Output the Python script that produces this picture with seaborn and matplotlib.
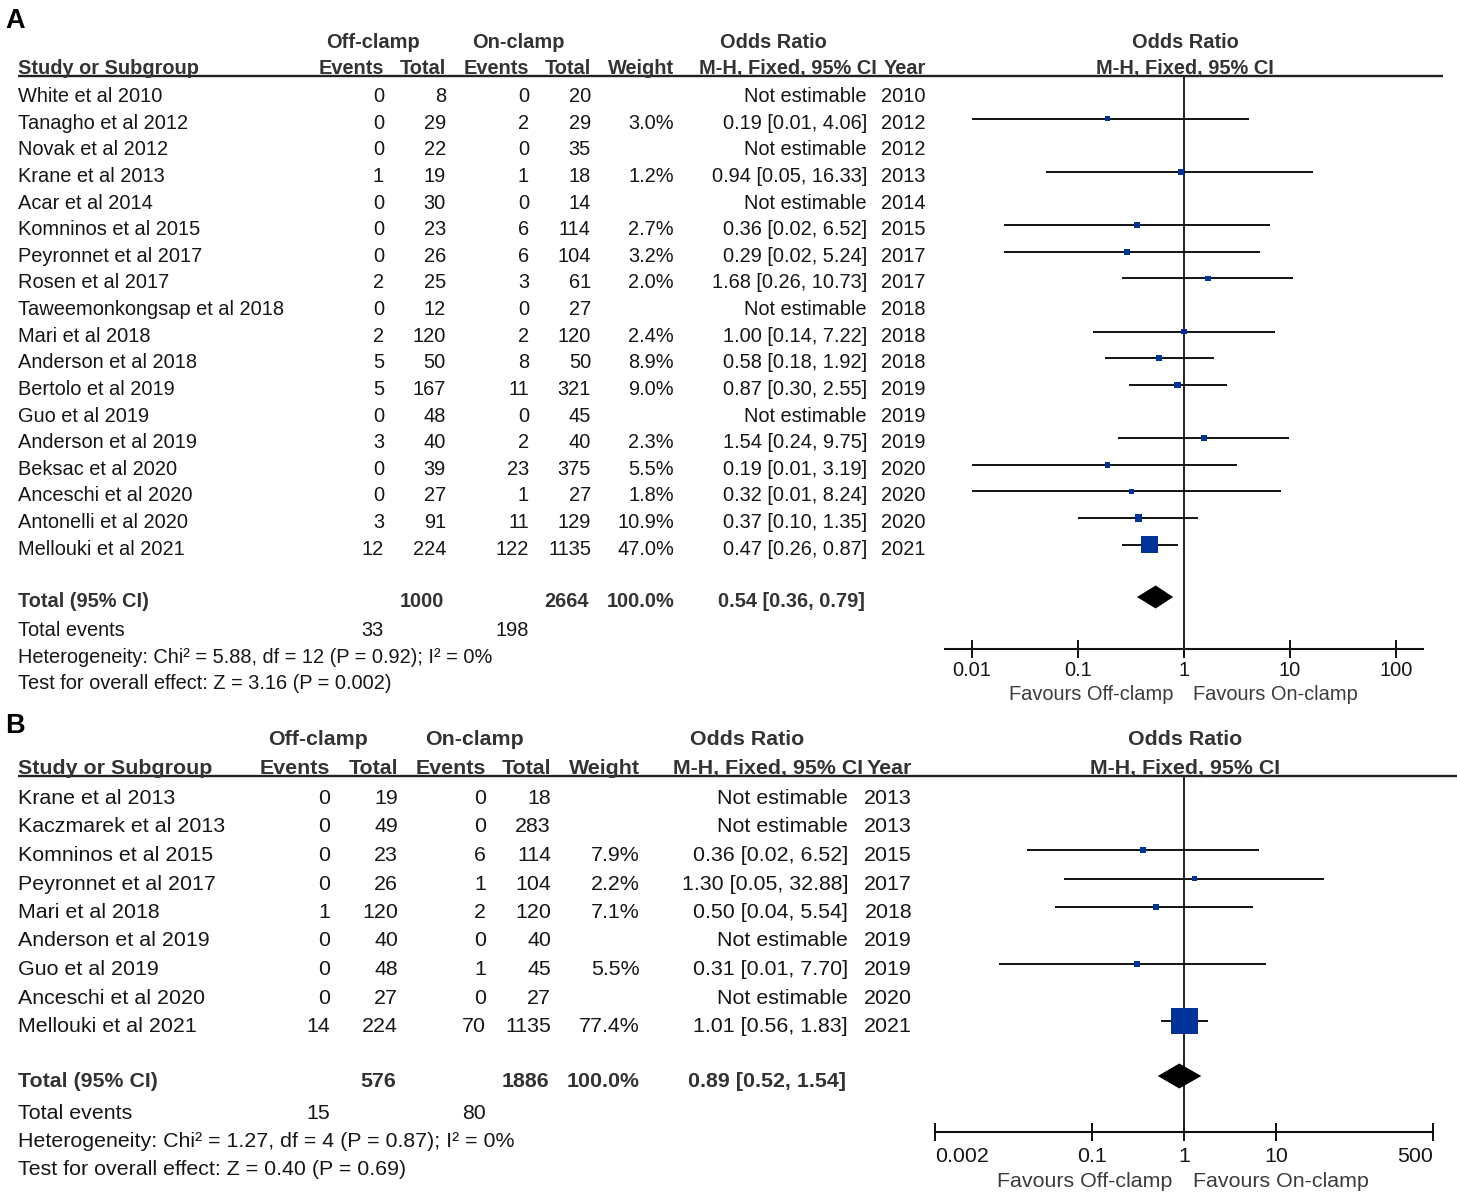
import numpy as np
import pandas as pd
import matplotlib
matplotlib.use("Agg")
import matplotlib.pyplot as plt
from matplotlib.ticker import NullLocator
import seaborn as sns

# ---------------- data: panel A ----------------
A_study = ["White et al 2010", "Tanagho et al 2012", "Novak et al 2012", "Krane et al 2013",
           "Acar et al 2014", "Komninos et al 2015", "Peyronnet et al 2017", "Rosen et al 2017",
           "Taweemonkongsap et al 2018", "Mari et al 2018", "Anderson et al 2018",
           "Bertolo et al 2019", "Guo et al 2019", "Anderson et al 2019", "Beksac et al 2020",
           "Anceschi et al 2020", "Antonelli et al 2020", "Mellouki et al 2021"]
A_off_events = [0, 0, 0, 1, 0, 0, 0, 2, 0, 2, 5, 5, 0, 3, 0, 0, 3, 12]
A_off_total = [8, 29, 22, 19, 30, 23, 26, 25, 12, 120, 50, 167, 48, 40, 39, 27, 91, 224]
A_on_events = [0, 2, 0, 1, 0, 6, 6, 3, 0, 2, 8, 11, 0, 2, 23, 1, 11, 122]
A_on_total = [20, 29, 35, 18, 14, 114, 104, 61, 27, 120, 50, 321, 45, 40, 375, 27, 129, 1135]
A_weight = [None, 3.0, None, 1.2, None, 2.7, 3.2, 2.0, None, 2.4, 8.9, 9.0, None, 2.3, 5.5, 1.8, 10.9, 47.0]
A_or = [None, 0.19, None, 0.94, None, 0.36, 0.29, 1.68, None, 1.00, 0.58, 0.87, None, 1.54, 0.19, 0.32, 0.37, 0.47]
A_lo = [None, 0.01, None, 0.05, None, 0.02, 0.02, 0.26, None, 0.14, 0.18, 0.30, None, 0.24, 0.01, 0.01, 0.10, 0.26]
A_hi = [None, 4.06, None, 16.33, None, 6.52, 5.24, 10.73, None, 7.22, 1.92, 2.55, None, 9.75, 3.19, 8.24, 1.35, 0.87]
A_year = [2010, 2012, 2012, 2013, 2014, 2015, 2017, 2017, 2018, 2018, 2018, 2019, 2019, 2019, 2020, 2020, 2020, 2021]
A_total_n = [1000, 2664]
A_total_events = [33, 198]
A_total_or = [0.54, 0.36, 0.79]
A_het = "Heterogeneity: Chi\u00b2 = 5.88, df = 12 (P = 0.92); I\u00b2 = 0%"
A_test = "Test for overall effect: Z = 3.16 (P = 0.002)"
A_ticks = [0.01, 0.1, 1, 10, 100]
A_tick_labels = ["0.01", "0.1", "1", "10", "100"]

# ---------------- data: panel B ----------------
B_study = ["Krane et al 2013", "Kaczmarek et al 2013", "Komninos et al 2015", "Peyronnet et al 2017",
           "Mari et al 2018", "Anderson et al 2019", "Guo et al 2019", "Anceschi et al 2020",
           "Mellouki et al 2021"]
B_off_events = [0, 0, 0, 0, 1, 0, 0, 0, 14]
B_off_total = [19, 49, 23, 26, 120, 40, 48, 27, 224]
B_on_events = [0, 0, 6, 1, 2, 0, 1, 0, 70]
B_on_total = [18, 283, 114, 104, 120, 40, 45, 27, 1135]
B_weight = [None, None, 7.9, 2.2, 7.1, None, 5.5, None, 77.4]
B_or = [None, None, 0.36, 1.30, 0.50, None, 0.31, None, 1.01]
B_lo = [None, None, 0.02, 0.05, 0.04, None, 0.01, None, 0.56]
B_hi = [None, None, 6.52, 32.88, 5.54, None, 7.70, None, 1.83]
B_year = [2013, 2013, 2015, 2017, 2018, 2019, 2019, 2020, 2021]
B_total_n = [576, 1886]
B_total_events = [15, 80]
B_total_or = [0.89, 0.52, 1.54]
B_het = "Heterogeneity: Chi\u00b2 = 1.27, df = 4 (P = 0.87); I\u00b2 = 0%"
B_test = "Test for overall effect: Z = 0.40 (P = 0.69)"
B_ticks = [0.002, 0.1, 1, 10, 500]
B_tick_labels = ["0.002", "0.1", "1", "10", "500"]

# ---------------- style ----------------
sns.set_theme(style="white")
plt.rcParams['font.family'] = ['Liberation Sans', 'DejaVu Sans']

BODY = "#161616"
HEAD = "#333333"
FAV = "#3c3c3c"
SQ = "#003399"
LINE = "#111111"

W, H = 1457, 1192
fig = plt.figure(figsize=(W / 100, H / 100), dpi=100)
fig.patch.set_facecolor("white")
ov = fig.add_axes([0, 0, 1, 1])
ov.set_xlim(0, W)
ov.set_ylim(H, 0)
ov.axis("off")


def fmt_ci(o, l, h):
    return f"{o:.2f} [{l:.2f}, {h:.2f}]"


def panel(L, study, oe, ot, ne, nt, wt, orv, lo, hi, yr, tot_n, tot_ev, tot_or, het, test,
          ticks, tick_labels):
    fs = L["fs"]

    def T(x, y, s, ha="left", bold=False, color=BODY, size=None):
        ov.text(x, y, s, ha=ha, va="baseline", fontsize=size or fs,
                fontweight="bold" if bold else "normal", color=color)

    c = L["cols"]
    T(5, L["y_letter"], L["letter"], size=19.5, bold=True, color="black")
    # header
    T(c["g1"], L["y_h1"], "Off-clamp", ha="center", bold=True, color=HEAD)
    T(c["g2"], L["y_h1"], "On-clamp", ha="center", bold=True, color=HEAD)
    T(c["orc"], L["y_h1"], "Odds Ratio", ha="center", bold=True, color=HEAD)
    T(1185, L["y_h1"], "Odds Ratio", ha="center", bold=True, color=HEAD)
    T(18, L["y_h2"], "Study or Subgroup", bold=True, color=HEAD)
    T(c["oe"], L["y_h2"], "Events", ha="right", bold=True, color=HEAD)
    T(c["ot"], L["y_h2"], "Total", ha="right", bold=True, color=HEAD)
    T(c["ne"], L["y_h2"], "Events", ha="right", bold=True, color=HEAD)
    T(c["nt"], L["y_h2"], "Total", ha="right", bold=True, color=HEAD)
    T(c["w"], L["y_h2"], "Weight", ha="right", bold=True, color=HEAD)
    T(c["orh"], L["y_h2"], "M-H, Fixed, 95% CI", ha="right", bold=True, color=HEAD)
    T(c["yr"], L["y_h2"], "Year", ha="right", bold=True, color=HEAD)
    T(1185, L["y_h2"], "M-H, Fixed, 95% CI", ha="center", bold=True, color=HEAD)
    ov.plot([18, L["line_x1"]], [L["y_line"]] * 2, color="#222222", lw=1.7,
            solid_capstyle="butt")

    n = len(study)
    ybase = L["y_row0"] + L["dy"] * np.arange(n)
    for i in range(n):
        y = ybase[i]
        T(18, y, study[i])
        T(c["oe"], y, str(oe[i]), ha="right")
        T(c["ot"], y, str(ot[i]), ha="right")
        T(c["ne"], y, str(ne[i]), ha="right")
        T(c["nt"], y, str(nt[i]), ha="right")
        if wt[i] is not None:
            T(c["w"], y, f"{wt[i]:.1f}%", ha="right")
            T(c["orv"], y, fmt_ci(orv[i], lo[i], hi[i]), ha="right")
        else:
            T(c["orv"], y, "Not estimable", ha="right")
        T(c["yr"], y, str(yr[i]), ha="right")

    yt = L["y_total"]
    T(18, yt, "Total (95% CI)", bold=True, color=HEAD)
    T(c["ot"] - 2, yt, str(tot_n[0]), ha="right", bold=True, color=HEAD)
    T(c["nt"] - 2, yt, str(tot_n[1]), ha="right", bold=True, color=HEAD)
    T(c["w"], yt, "100.0%", ha="right", bold=True, color=HEAD)
    T(c["orv"] - 2, yt, fmt_ci(*tot_or), ha="right", bold=True, color=HEAD)
    T(18, L["y_ev"], "Total events")
    T(c["oe"], L["y_ev"], str(tot_ev[0]), ha="right")
    T(c["ne"], L["y_ev"], str(tot_ev[1]), ha="right")
    T(18, L["y_het"], het)
    T(18, L["y_test"], test)

    # forest axes
    ppd, xc = L["ppd"], 1184
    x0 = xc + ppd * np.log10(L["xlim"][0])
    x1 = xc + ppd * np.log10(L["xlim"][1])
    ytop, ybot = L["y_line"], L["y_axis"]
    ax = fig.add_axes([x0 / W, 1 - ybot / H, (x1 - x0) / W, (ybot - ytop) / H])
    ax.set_xscale("log")
    ax.set_xlim(*L["xlim"])
    ax.set_ylim(ybot, ytop)
    ax.patch.set_alpha(0)
    ax.grid(False)
    for s in ["top", "left", "right"]:
        ax.spines[s].set_visible(False)
    ax.spines["bottom"].set_color(LINE)
    ax.spines["bottom"].set_linewidth(1.5)
    ax.set_xticks(ticks)
    ax.set_xticklabels(tick_labels)
    ax.xaxis.set_minor_locator(NullLocator())
    ax.tick_params(axis="x", direction="inout", length=13, width=1.4, pad=L["pad"],
                   labelsize=fs, labelcolor=BODY, color=LINE, bottom=True)
    if L["edge_align"]:
        lbls = ax.get_xticklabels()
        lbls[0].set_horizontalalignment("left")
        lbls[-1].set_horizontalalignment("right")
    ax.set_yticks([])
    ax.axvline(1, color="#222222", lw=1.4, zorder=1)

    ycen = ybase - L["line_off"]
    df = pd.DataFrame({"or": orv, "lo": lo, "hi": hi, "w": wt, "y": ycen}).dropna()
    ax.hlines(df["y"], df["lo"], df["hi"], color=LINE, lw=1.4, zorder=2)
    side_px = np.maximum(L["sq_k"] * df["w"].to_numpy() ** 0.6, 5.5)
    sizes = (side_px * 0.72) ** 2
    sns.scatterplot(data=df, x="or", y="y", marker="s", s=sizes, color=SQ,
                    linewidth=0, ax=ax, legend=False, zorder=3)
    ax.set_xlabel("")
    ax.set_ylabel("")

    yd = yt - L["line_off"]
    e, l, h = tot_or
    hh = L["dia_h"]
    ax.fill([l, e, h, e], [yd, yd - hh, yd, yd + hh], color="black", lw=0, zorder=3)

    T(L["fav_r"], L["y_fav"], "Favours Off-clamp", ha="right", color=FAV)
    T(L["fav_l"], L["y_fav"], "Favours On-clamp", ha="left", color=FAV)


LA = dict(fs=14.4, letter="A", y_letter=28, y_h1=48, y_h2=74, y_line=76, line_x1=1443,
          y_row0=102, dy=26.63, y_total=607, y_ev=636, y_het=663, y_test=689,
          cols=dict(g1=373, g2=518, orc=773, oe=384, ot=446, ne=529, nt=591, w=674,
                    orh=877, orv=867, yr=926),
          ppd=106.0, xlim=(0.0056, 180), y_axis=649, pad=2.5, line_off=10, edge_align=False,
          sq_k=1.72, dia_h=11.5, fav_r=1173, fav_l=1193, y_fav=700)

LB = dict(fs=15.4, letter="B", y_letter=733, y_h1=745, y_h2=774, y_line=776, line_x1=1457,
          y_row0=804, dy=28.5, y_total=1087, y_ev=1119, y_het=1147, y_test=1175,
          cols=dict(g1=318, g2=474, orc=747, oe=330, ot=398, ne=486, nt=551, w=640,
                    orh=863, orv=848, yr=912),
          ppd=92.3, xlim=(0.002, 500), y_axis=1132, pad=4.0, line_off=11, edge_align=True,
          sq_k=1.95, dia_h=12.5, fav_r=1172, fav_l=1193, y_fav=1187)

panel(LA, A_study, A_off_events, A_off_total, A_on_events, A_on_total, A_weight, A_or, A_lo,
      A_hi, A_year, A_total_n, A_total_events, A_total_or, A_het, A_test, A_ticks, A_tick_labels)
panel(LB, B_study, B_off_events, B_off_total, B_on_events, B_on_total, B_weight, B_or, B_lo,
      B_hi, B_year, B_total_n, B_total_events, B_total_or, B_het, B_test, B_ticks, B_tick_labels)

fig.savefig("out.png", dpi=100, facecolor="white")
